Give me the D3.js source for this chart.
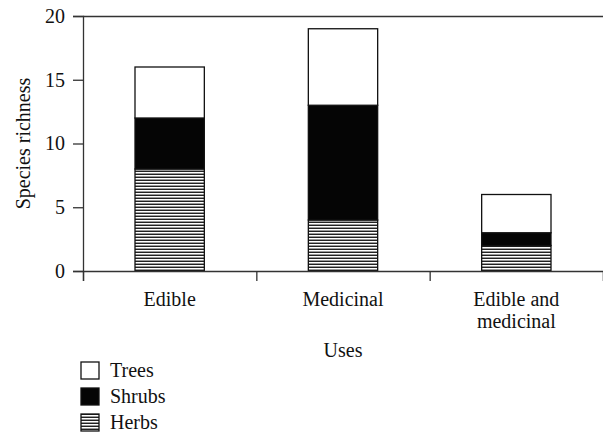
<!DOCTYPE html>
<html>
<head>
<meta charset="utf-8">
<script src="https://cdn.jsdelivr.net/npm/d3@7"></script>
</head>
<body style="margin:0">
<svg id="chart" width="603" height="435" font-family="Liberation Serif"></svg>
<script>
const categories = ["Edible", "Medicinal", "Edible and medicinal"];
const categoryLines = [["Edible"], ["Medicinal"], ["Edible and", "medicinal"]];
const seriesNames = ["Herbs", "Shrubs", "Trees"];
const herbs = [8, 4, 2];
const shrubs = [4, 9, 1];
const trees = [4, 6, 3];
const yTicks = [0, 5, 10, 15, 20];
const yLabel = "Species richness";
const xLabel = "Uses";
const legendOrder = ["Trees", "Shrubs", "Herbs"];

const svg = d3.select("#chart");
const mLeft = 83, mRight = 603, mTop = 16, mBottom = 271;
const fontSize = 20;

const defs = svg.append("defs");
const pat = defs.append("pattern").attr("id", "hatch")
  .attr("patternUnits", "userSpaceOnUse").attr("width", 6).attr("height", 3);
pat.append("rect").attr("width", 6).attr("height", 3).attr("fill", "#9a9a9a");
pat.append("rect").attr("y", 0).attr("width", 6).attr("height", 1).attr("fill", "#222");
pat.append("rect").attr("y", 1).attr("width", 6).attr("height", 1).attr("fill", "#fff");

const fills = { Herbs: "url(#hatch)", Shrubs: "#050505", Trees: "#ffffff" };
const valuesBySeries = { Herbs: herbs, Shrubs: shrubs, Trees: trees };

const x = d3.scaleBand().domain(categories).range([mLeft, mRight]).paddingInner(0).paddingOuter(0);
const y = d3.scaleLinear().domain([0, 20]).range([mBottom, mTop]);

const table = categories.map((c, i) => {
  const o = { category: c };
  seriesNames.forEach(s => o[s] = valuesBySeries[s][i]);
  return o;
});
const stacked = d3.stack().keys(seriesNames)(table);

function txt(sel) {
  return sel.attr("font-family", "Times New Roman").attr("font-size", fontSize).attr("fill", "#111");
}

// top frame line
svg.append("line").attr("x1", mLeft).attr("x2", mRight).attr("y1", mTop + 0.5).attr("y2", mTop + 0.5)
  .attr("stroke", "#333").attr("stroke-width", 1.3);

// bars
const barW = x.bandwidth() * 0.4;
stacked.forEach(layer => {
  svg.append("g").selectAll("rect").data(layer).enter().append("rect")
    .attr("x", d => x(d.data.category) + (x.bandwidth() - barW) / 2)
    .attr("y", d => y(d[1]))
    .attr("width", barW)
    .attr("height", d => y(d[0]) - y(d[1]))
    .attr("fill", fills[layer.key])
    .attr("stroke", "#111").attr("stroke-width", 1.3);
});

// y axis
const yAxis = d3.axisLeft(y).tickValues(yTicks).tickSize(10).tickPadding(8).tickFormat(d3.format("d"));
const gy = svg.append("g").attr("transform", `translate(${mLeft},0)`).call(yAxis);
gy.attr("font-family", "Times New Roman").attr("font-size", fontSize);
gy.select(".domain").attr("stroke", "#333").attr("stroke-width", 1.3);
gy.selectAll(".tick line").attr("stroke", "#333").attr("stroke-width", 1.3);
txt(gy.selectAll(".tick text"));

// x axis (ticks at category boundaries)
const xb = d3.scaleLinear().domain([0, categories.length]).range([mLeft, mRight]);
const xAxis = d3.axisBottom(xb).tickValues(d3.range(categories.length + 1)).tickSize(10).tickFormat("");
const gx = svg.append("g").attr("transform", `translate(0,${mBottom})`).call(xAxis);
gx.attr("font-family", "Times New Roman");
gx.select(".domain").attr("stroke", "#333").attr("stroke-width", 1.3);
gx.selectAll(".tick line").attr("stroke", "#333").attr("stroke-width", 1.3);

// category labels
categories.forEach((c, i) => {
  const t = txt(svg.append("text")).attr("text-anchor", "middle")
    .attr("x", x(c) + x.bandwidth() / 2).attr("y", 306);
  categoryLines[i].forEach((ln, j) => {
    t.append("tspan").attr("x", x(c) + x.bandwidth() / 2).attr("dy", j === 0 ? 0 : 22).text(ln);
  });
});

// axis titles
txt(svg.append("text")).attr("text-anchor", "middle").attr("x", (mLeft + mRight) / 2).attr("y", 357).text(xLabel);
txt(svg.append("text")).attr("text-anchor", "middle")
  .attr("transform", `translate(30,${(mTop + mBottom) / 2}) rotate(-90)`).text(yLabel);

// legend
legendOrder.forEach((s, i) => {
  const ly = 362 + i * 26;
  svg.append("rect").attr("x", 81).attr("y", ly).attr("width", 18).attr("height", 17)
    .attr("fill", fills[s]).attr("stroke", "#111").attr("stroke-width", 1.3);
  txt(svg.append("text")).attr("x", 110).attr("y", ly + 15).text(s);
});
</script>
</body>
</html>
